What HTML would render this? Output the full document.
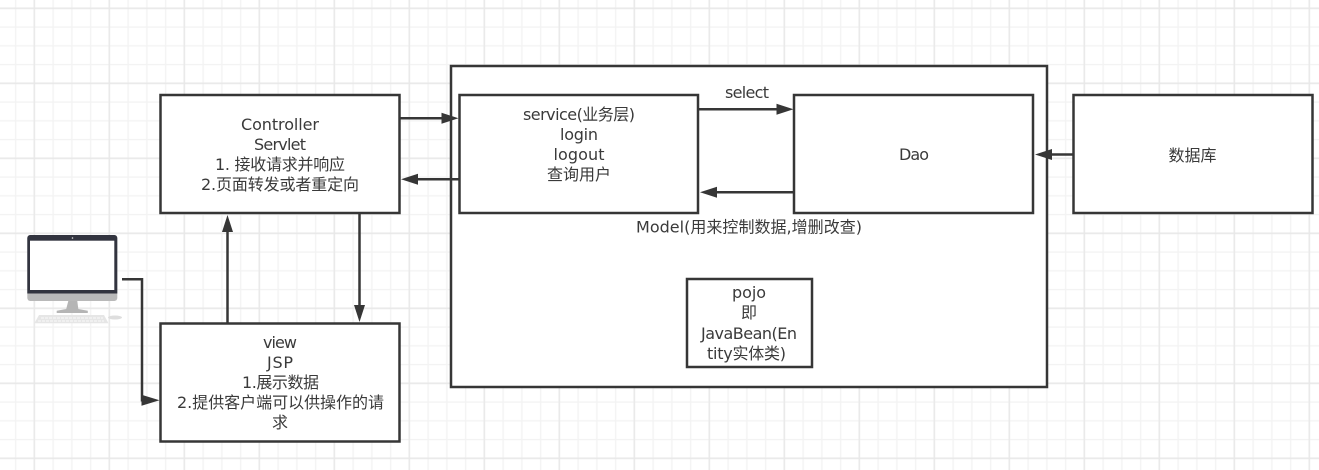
<!DOCTYPE html>
<html><head><meta charset="utf-8"><style>
html,body{margin:0;padding:0;background:#fff;width:1319px;height:470px;overflow:hidden}
svg{display:block}
text{font-family:"DejaVu Sans","Noto Sans CJK SC",sans-serif;font-size:16px;fill:#3a3a3a;text-anchor:middle}
</style></head><body>
<svg width="1319" height="470" viewBox="0 0 1319 470" xmlns="http://www.w3.org/2000/svg">
<defs>
<pattern id="minor" x="13.6" y="6.3" width="18.75" height="18.75" patternUnits="userSpaceOnUse"><path d="M2 0V18.75M0 2H18.75" stroke="#f3f3f3" stroke-width="1.4" fill="none"/></pattern>
<pattern id="major" x="32.3" y="6.3" width="75" height="75" patternUnits="userSpaceOnUse"><path d="M2 0V75M0 2H75" stroke="#e8e8e8" stroke-width="1.4" fill="none"/></pattern>
</defs>
<rect width="1319" height="470" fill="#fff"/>
<rect width="1319" height="470" fill="url(#minor)"/>
<rect width="1319" height="470" fill="url(#major)"/>

<!-- computer -->
<rect x="27.300" y="235" width="90" height="66" rx="3" fill="#b9b9b9"/>
<path d="M27.300 293.500V238a3 3 0 0 1 3-3h84a3 3 0 0 1 3 3v55.500z" fill="#32343f"/>
<rect x="30" y="240.700" width="84.300" height="49.300" fill="#fff"/>
<circle cx="72.500" cy="238" r="0.800" fill="#ddd"/>
<path d="M68.300 301h9l1 8 9.500 1.700v2.300H56.700v-2.300l9.500-1.700z" fill="#b5b5b5"/>
<path d="M39 315h65l4.500 8.300H34.300z" fill="#e6e6e6"/>
<path d="M41 318h62M38 321h66" stroke="#fff" stroke-width="0.800" stroke-dasharray="3 1"/>
<ellipse cx="115" cy="317.500" rx="7" ry="2" fill="#dedede"/>

<g fill="#fff" stroke="#363636" stroke-width="2.500">
<rect x="451" y="66" width="596" height="321"/>
<rect x="160.500" y="95" width="239" height="118"/>
<rect x="459.500" y="95" width="238.500" height="118"/>
<rect x="794" y="95" width="239" height="118"/>
<rect x="1073.500" y="95" width="239" height="118"/>
<rect x="160.500" y="323.500" width="239" height="118"/>
<rect x="687" y="279" width="125" height="88"/>
</g>

<g fill="none" stroke="#363636" stroke-width="2.500">
<path d="M400 118.300H445"/>
<path d="M459 179.300H414"/>
<path d="M698 109.300H780"/>
<path d="M794 192.300H713"/>
<path d="M1073 154.500H1048"/>
<path d="M227.500 323V229"/>
<path d="M359.500 213V308"/>
<path d="M122 279.300H142V400.300H145"/>
</g>
<g fill="#363636">
<path d="M458.500 118.300l-17-5.500v11z"/>
<path d="M401 179.300l17-5.500v11z"/>
<path d="M793.500 109.300l-17-5.500v11z"/>
<path d="M700 192.300l17-5.500v11z"/>
<path d="M1035 154.500l17-5.500v11z"/>
<path d="M227.500 215l-5.500 17h11z"/>
<path d="M359.500 322l-5.500-17h11z"/>
<path d="M159.500 400.300l-18-5.500v11z"/>
</g>

<text x="280" y="130" textLength="78" lengthAdjust="spacing">Controller</text>
<text x="280" y="150" textLength="52" lengthAdjust="spacing">Servlet</text>
<text x="280" y="170" textLength="130" lengthAdjust="spacing">1. 接收请求并响应</text>
<text x="280" y="190" textLength="158" lengthAdjust="spacing">2.页面转发或者重定向</text>
<text x="579" y="120" textLength="112" lengthAdjust="spacing">service(业务层)</text>
<text x="579" y="140" textLength="38" lengthAdjust="spacing">login</text>
<text x="579" y="160" textLength="51" lengthAdjust="spacing">logout</text>
<text x="579" y="180" textLength="64" lengthAdjust="spacing">查询用户</text>
<text x="747" y="98" textLength="44" lengthAdjust="spacing">select</text>
<text x="914" y="160" textLength="30" lengthAdjust="spacing">Dao</text>
<text x="1192.500" y="161" textLength="48" lengthAdjust="spacing">数据库</text>
<text x="749" y="232.500" textLength="226" lengthAdjust="spacing">Model(用来控制数据,增删改查)</text>
<text x="749" y="298" textLength="34" lengthAdjust="spacing">pojo</text>
<text x="749" y="318">即</text>
<text x="749" y="339" textLength="96" lengthAdjust="spacing">JavaBean(En</text>
<text x="746.500" y="359" textLength="79" lengthAdjust="spacing">tity实体类)</text>
<text x="280" y="348" textLength="34" lengthAdjust="spacing">view</text>
<text x="280" y="368" textLength="26" lengthAdjust="spacing">JSP</text>
<text x="280.500" y="388" textLength="77" lengthAdjust="spacing">1.展示数据</text>
<text x="280.500" y="408" textLength="207" lengthAdjust="spacing">2.提供客户端可以供操作的请</text>
<text x="280" y="428">求</text>
</svg>
</body></html>
